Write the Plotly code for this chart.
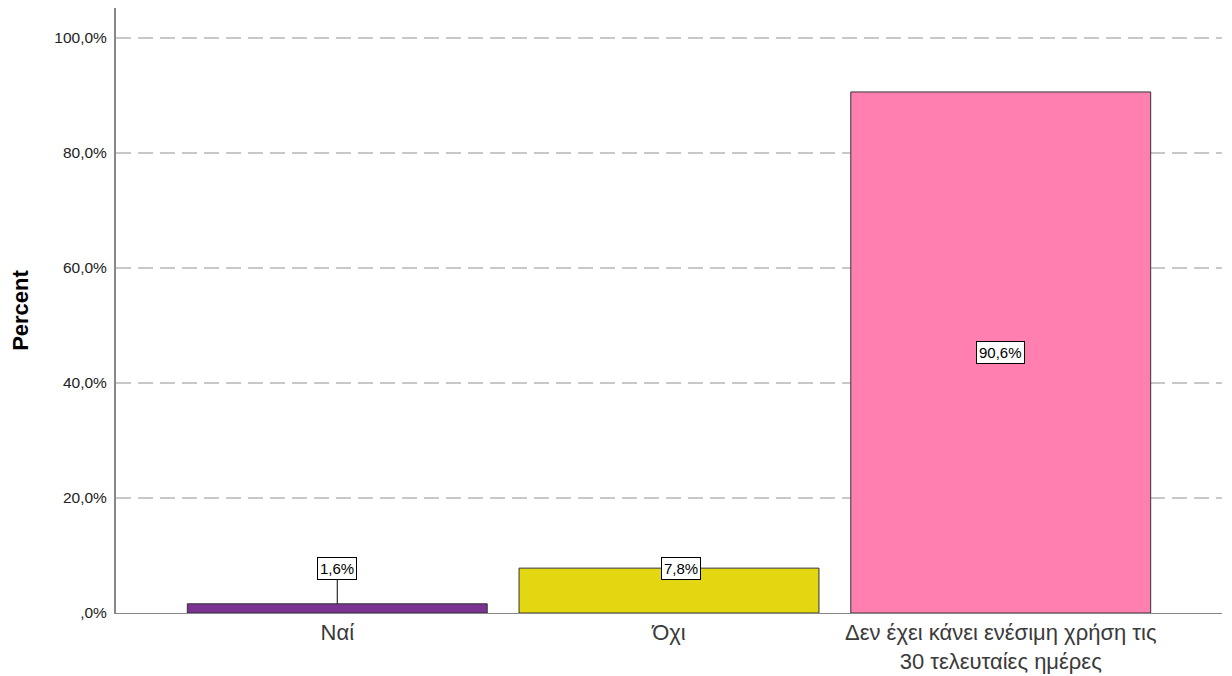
import plotly.graph_objects as go

categories = ["Ναί", "Όχι", "Δεν έχει κάνει ενέσιμη χρήση τις<br>30 τελευταίες ημέρες"]
percent = [1.6, 7.8, 90.6]
bar_colors = ["#7B3391", "#E2D711", "#FF80B0"]
tick_vals = [0, 20, 40, 60, 80, 100]
tick_text = [",0%", "20,0%", "40,0%", "60,0%", "80,0%", "100,0%"]


def fmt(v):
    return f"{v:.1f}".replace(".", ",") + "%"


fig = go.Figure()
fig.add_trace(go.Bar(
    x=list(range(len(categories))),
    y=percent,
    width=0.904,
    marker=dict(color=bar_colors, line=dict(color="#333333", width=1)),
    hoverinfo="skip",
))

label_font = dict(family="Arial, Liberation Sans, sans-serif", size=15, color="#000000")
box = dict(bgcolor="#FFFFFF", bordercolor="#000000", borderwidth=1, borderpad=2, font=label_font)
annotations = []
# small bar: label lifted to a minimum height with a leader line
min_label = 7.8
for i, v in enumerate(percent):
    if v < min_label:
        annotations.append(dict(
            x=i, y=v, xref="x", yref="y",
            ax=i, ay=min_label, axref="x", ayref="y",
            text=fmt(v), showarrow=True, arrowhead=0, arrowwidth=1,
            arrowcolor="#000000", standoff=0, **box,
        ))
    elif v < 20:
        annotations.append(dict(
            x=i, y=v, xref="x", yref="y", xshift=12,
            text=fmt(v), showarrow=False, **box,
        ))
    else:
        annotations.append(dict(
            x=i, y=v / 2, xref="x", yref="y",
            text=fmt(v), showarrow=False, **box,
        ))

fig.update_layout(
    width=1232, height=676,
    margin=dict(l=116, r=10, t=8, b=63),
    paper_bgcolor="#FFFFFF", plot_bgcolor="#FFFFFF",
    showlegend=False,
    font=dict(family="Arial, Liberation Sans, sans-serif", color="#222222"),
    annotations=annotations,
    xaxis=dict(
        range=[-0.667, 2.667],
        tickvals=list(range(len(categories))),
        ticktext=categories,
        tickfont=dict(size=22, color="#3A3A3A"),
        showgrid=False, zeroline=False,
        showline=True, linecolor="#888888", linewidth=1,
        ticks="", ticklabelstandoff=0, automargin=False, fixedrange=True,
    ),
    yaxis=dict(
        range=[0, 105.2],
        tickvals=tick_vals,
        ticktext=tick_text,
        tickfont=dict(size=15.5, color="#222222"),
        showgrid=True, gridcolor="#C8C8C8", gridwidth=1.5, griddash="15px,7px",
        zeroline=False,
        showline=True, linecolor="#888888", linewidth=2,
        ticks="", ticklabelstandoff=4, automargin=False,
        title=dict(text="<b>Percent</b>", font=dict(size=22, color="#000000"), standoff=20),
        fixedrange=True,
    ),
)

fig.write_html("out.html")
